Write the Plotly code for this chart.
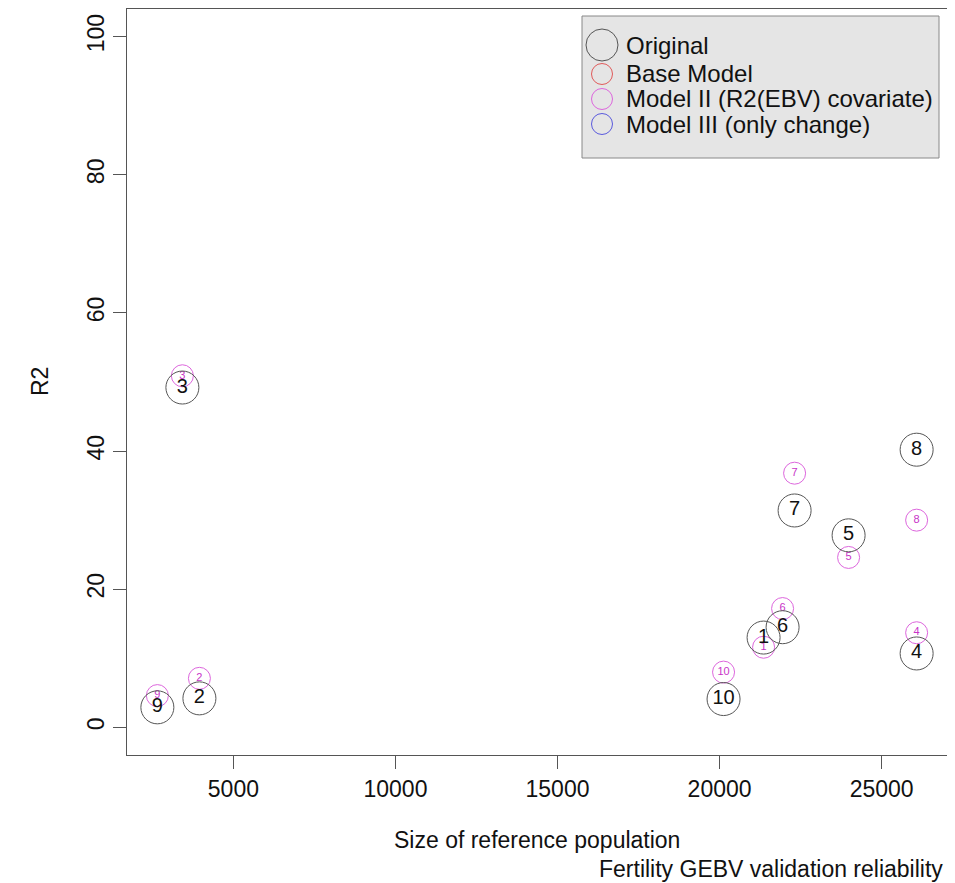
import plotly.graph_objects as go

# ---- data ----
samples = ["1", "2", "3", "4", "5", "6", "7", "8", "9", "10"]
ref_size = [21358, 3951, 3426, 26080, 23981, 21944, 22315, 26080, 2654, 20123]
r2_original = [13.0, 4.2, 49.2, 10.7, 27.8, 14.5, 31.4, 40.2, 2.9, 4.1]
r2_model2 = [11.6, 7.1, 50.9, 13.7, 24.6, 17.2, 36.8, 30.0, 4.6, 8.0]
x_ticks = [5000, 10000, 15000, 20000, 25000]
y_ticks = [0, 20, 40, 60, 80, 100]
y_limits = [0, 100]
legend_labels = ["Original", "Base Model", "Model II (R2(EBV) covariate)", "Model III (only change)"]
legend_colors = ["#555555", "#E05A5A", "#DD66DD", "#5A5ADD"]

# ---- layout geometry (page pixels; the page body has an 8px margin) ----
OFF = 8
W, H = 955 - OFF, 883 - OFF
PL, PR, PT, PB = 127, 947, 9, 755          # plot box in page pixels
L, T = PL - OFF, PT - OFF
R, B = W - (PR - OFF), H - (PB - OFF)
PW, PH = PR - PL, PB - PT
FONT = "Liberation Sans, Arial, Helvetica, sans-serif"
AX = "#555555"


def px_x(p):
    return (p - PL) / PW


def px_y(p):
    return (PB - p) / PH


# R-style 4% axis extension
xlo, xhi = min(ref_size), max(ref_size)
xpad = 0.04 * (xhi - xlo)
ypad = 0.04 * (y_limits[1] - y_limits[0])

fig = go.Figure()

fig.add_trace(go.Scatter(
    x=ref_size, y=r2_model2, text=samples, mode="markers+text",
    textposition="middle center",
    marker=dict(symbol="circle-open", size=22, color="#DD66DD", line=dict(width=1)),
    textfont=dict(family=FONT, size=11, color="#C833C8"),
    showlegend=False, hoverinfo="skip"))

fig.add_trace(go.Scatter(
    x=ref_size, y=r2_original, text=samples, mode="markers+text",
    textposition="middle center",
    marker=dict(symbol="circle-open", size=33, color="#555555", line=dict(width=1)),
    textfont=dict(family=FONT, size=20, color="#111111"),
    showlegend=False, hoverinfo="skip"))

shapes = []
annotations = []

# legend box
shapes.append(dict(type="rect", xref="paper", yref="paper",
                   x0=px_x(582), x1=px_x(939), y0=px_y(158), y1=px_y(16),
                   fillcolor="#E5E5E5", line=dict(color="#888888", width=1), layer="above"))
row_y = [45, 74, 99, 124]
radii = [16, 10.5, 10.5, 10.5]
for lab, col, ry, rad in zip(legend_labels, legend_colors, row_y, radii):
    shapes.append(dict(type="circle", xref="paper", yref="paper",
                       xsizemode="pixel", ysizemode="pixel",
                       xanchor=px_x(602), yanchor=px_y(ry),
                       x0=-rad, x1=rad, y0=-rad, y1=rad,
                       line=dict(color=col, width=1), layer="above"))
    annotations.append(dict(text=lab, xref="paper", yref="paper",
                            x=px_x(624), y=px_y(ry), xanchor="left", yanchor="middle",
                            showarrow=False, font=dict(family=FONT, size=24, color="#111111")))

annotations.append(dict(text="Size of reference population", xref="paper", yref="paper",
                        x=0.5, y=px_y(840), xanchor="center", yanchor="middle",
                        showarrow=False, font=dict(family=FONT, size=23, color="#111111")))
annotations.append(dict(text="Fertility GEBV validation reliability", xref="paper", yref="paper",
                        x=px_x(945), y=px_y(869), xanchor="right", yanchor="middle",
                        showarrow=False, font=dict(family=FONT, size=23, color="#111111")))
annotations.append(dict(text="R2", xref="paper", yref="paper",
                        x=px_x(40), y=0.5, xanchor="center", yanchor="middle", textangle=-90,
                        showarrow=False, font=dict(family=FONT, size=23, color="#111111")))

fig.update_layout(
    width=W, height=H,
    margin=dict(l=L, r=R, t=T, b=B, pad=0),
    paper_bgcolor="white", plot_bgcolor="white",
    font=dict(family=FONT, size=23, color="#111111"),
    shapes=shapes, annotations=annotations,
    xaxis=dict(range=[xlo - xpad, xhi + xpad], tickvals=x_ticks,
               ticktext=[str(v) for v in x_ticks],
               showgrid=False, zeroline=False, showline=True, mirror=True,
               linecolor=AX, linewidth=1, ticks="outside", ticklen=13,
               tickcolor=AX, tickwidth=1, tickfont=dict(family=FONT, size=23, color="#111111")),
    yaxis=dict(range=[y_limits[0] - ypad, y_limits[1] + ypad], tickvals=y_ticks,
               ticktext=[str(v) for v in y_ticks], tickangle=-90,
               showgrid=False, zeroline=False, showline=True, mirror=True,
               linecolor=AX, linewidth=1, ticks="outside", ticklen=13,
               tickcolor=AX, tickwidth=1, tickfont=dict(family=FONT, size=23, color="#111111")),
)

fig.write_html("out.html")
